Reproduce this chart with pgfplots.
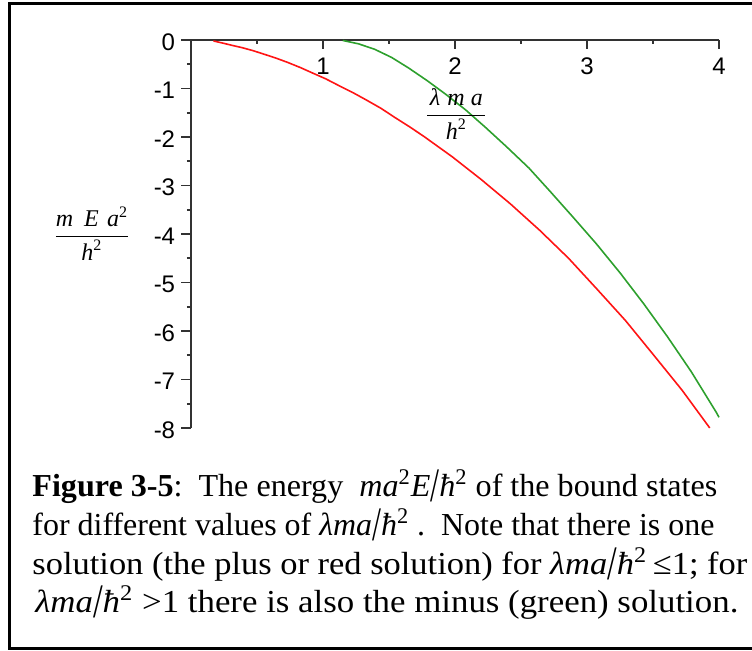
\documentclass[border=0pt]{standalone}
\usepackage{amsmath}
\usepackage{graphicx}
\usepackage{fontspec}
\setmainfont{Liberation Serif}
\setsansfont{Liberation Sans}
\usepackage{pgfplots}
\pgfplotsset{compat=1.18}

\definecolor{maplered}{RGB}{255,20,20}
\definecolor{maplegreen}{RGB}{45,160,45}
\definecolor{axisgray}{RGB}{50,50,50}

% tall slash used in the caption formulas
\newcommand{\tsl}{\raisebox{-0.28ex}{\scalebox{1}[1.5]{/}}}
\newcommand{\hb}{\textit{ħ}\textsuperscript{2}}
% one caption line brought to a given width
\newcommand{\capline}[2]{\resizebox{#1}{\height}{#2}}

% bound-state energies, plus (red) and minus (green) branches
\pgfplotstableread{
g      E
0.17  -0.02
0.25  -0.07
0.31  -0.11
0.39  -0.16
0.47  -0.22
0.55  -0.29
0.64  -0.37
0.73  -0.46
0.83  -0.57
0.92  -0.68
1.02  -0.80
1.12  -0.94
1.23  -1.09
1.33  -1.24
1.44  -1.41
1.54  -1.59
1.65  -1.78
1.76  -1.98
1.98  -2.41
2.20  -2.88
2.42  -3.38
2.64  -3.92
2.86  -4.50
3.07  -5.12
3.29  -5.78
3.50  -6.48
3.72  -7.22
3.93  -8.00
}\plusbranch

\pgfplotstableread{
g      E
1.15  -0.01
1.27  -0.08
1.39  -0.19
1.52  -0.36
1.65  -0.58
1.79  -0.84
1.93  -1.12
2.08  -1.44
2.23  -1.80
2.39  -2.20
2.56  -2.64
2.72  -3.12
2.89  -3.64
3.07  -4.20
3.25  -4.80
3.43  -5.44
3.61  -6.12
3.79  -6.84
3.98  -7.68
4.00  -7.78
}\minusbranch

\begin{document}
\begin{tikzpicture}[x=1pt,y=1pt]
\useasboundingbox (0,0) rectangle (376,325.5);
% frame
\draw[line width=1.5pt] (376,323.75) -- (4.75,323.75) -- (4.75,1.25) -- (376,1.25);

\begin{axis}[
  at={(95.5pt,305.5pt)}, anchor=origin,
  x=66pt, y=24.25pt,
  xmin=0, xmax=4, ymin=-8, ymax=0,
  axis x line=top, axis y line=left,
  axis line style={-, line width=0.9pt, axisgray},
  xtick={1,2,3,4}, minor xtick={0.5,1.5,2.5,3.5},
  ytick={0,-1,-2,-3,-4,-5,-6,-7,-8},
  yticklabels={0,-1,-2,-3,-4,-5,-6,-7,-8},
  minor ytick={-0.5,-1.5,-2.5,-3.5,-4.5,-5.5,-6.5,-7.5},
  xtick align=inside, ytick align=outside,
  major tick length=4.75pt, minor tick length=2pt,
  tick style={line width=0.9pt, axisgray},
  /pgf/number format/assume math mode=true,
  ticklabel style={font=\sffamily\fontsize{12}{14}\selectfont, inner sep=0pt},
  xticklabel style={anchor=base, yshift=-17.5pt},
  yticklabel style={anchor=east, xshift=-3pt, yshift=-1pt},
  every axis x label/.style={at={(axis cs:2.01,-1.53)}, anchor=center},
  every axis y label/.style={at={(axis cs:-0.75,-4)}, anchor=center},
  xlabel={\fontsize{12}{14}\selectfont$\dfrac{\hspace{0.1em}\textit{λ}\hspace{0.3em}\textit{m}\hspace{0.25em}\textit{a}\hspace{0.1em}}{\textit{h}^{\textrm{2}}}$},
  ylabel={\fontsize{12}{14}\selectfont$\dfrac{\textit{m}\hspace{0.45em}\textit{E}\hspace{0.35em}\textit{a}^{\textrm{2}}}{\textit{h}^{\textrm{2}}}$},
  clip=false,
]
\addplot[maplered, line width=0.8pt] table[x=g, y=E] {\plusbranch};
\addplot[maplegreen, line width=0.8pt] table[x=g, y=E] {\minusbranch};
\end{axis}

% caption
\begin{scope}[every node/.style={anchor=base west, inner sep=0pt, font=\fontsize{16}{19}\selectfont}]
\node at (16,77) {\capline{342.5pt}{\textbf{Figure 3-5}:\ \ The energy \ \textit{ma}\textsuperscript{2}\textit{E}\tsl\hb\ of the bound states}};
\node at (16,57.5) {\capline{341pt}{for different values of \textit{λma}\tsl\hb\ .\ \ Note that there is one}};
\node at (16,38) {\capline{357.5pt}{solution (the plus or red solution) for \textit{λma}\tsl\hb\,≤1; for}};
\node at (17.5,19) {\capline{351.5pt}{\textit{λma}\tsl\hb\ {>}1 there is also the minus (green) solution.}};
\end{scope}
\end{tikzpicture}
\end{document}
